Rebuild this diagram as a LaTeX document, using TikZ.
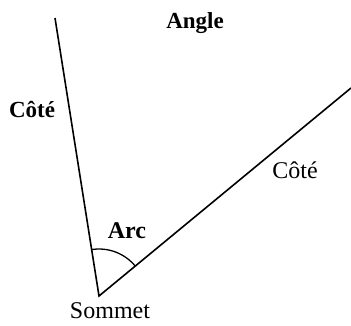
\documentclass[tikz,border=0pt]{standalone}
\usepackage{fontspec}
\setmainfont{Liberation Serif}
\begin{document}
\begin{tikzpicture}[x=1pt,y=1pt,
  side/.style={line width=1.6pt},
  arcline/.style={line width=1.3pt},
  lbl/.style={anchor=base,inner sep=0pt,font=\fontsize{24}{27}\selectfont},
  blbl/.style={lbl,font=\fontsize{23}{26}\selectfont\bfseries}]
\useasboundingbox (0,0) rectangle (351,325);
\coordinate (V) at (99,29);
\coordinate (L) at (55,307);
\coordinate (R) at (351,237);
\draw[side,line cap=butt] (L) -- (V) -- (R);
\draw[arcline] (V) ++(39.5:47) arc[start angle=39.5,end angle=99,radius=47];
\node[blbl] (angle) at (195,297) {Angle};
\node[blbl] (cotel) at (32,208) {Côté};
\node[lbl] (coter) at (295,147) {Côté};
\node[blbl,font=\fontsize{24}{27}\selectfont\bfseries] (arc) at (127,87) {Arc};
\node[lbl] (sommet) at (110,7) {Sommet};
\end{tikzpicture}
\end{document}
